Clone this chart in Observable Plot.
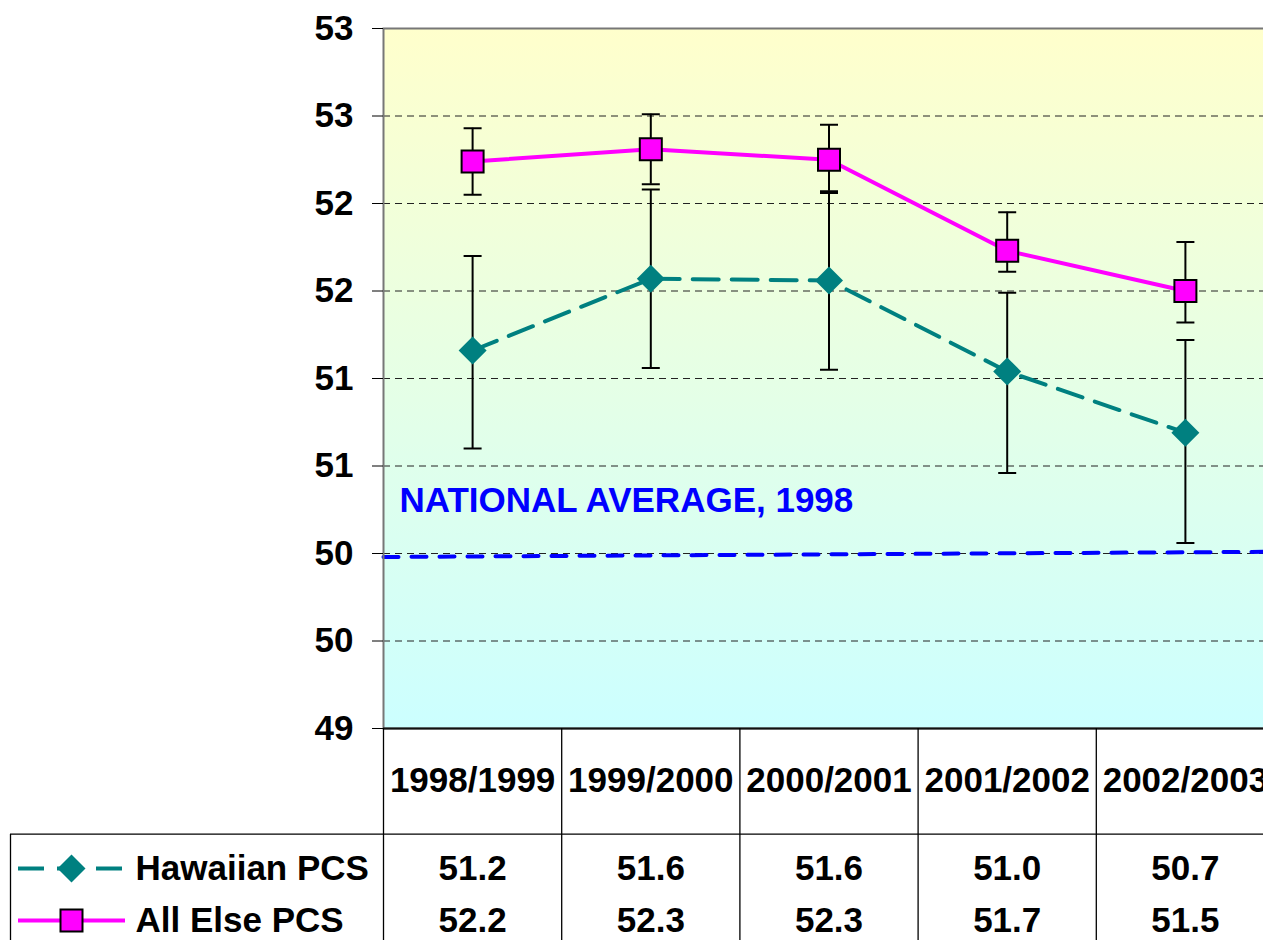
<!DOCTYPE html>
<html><head><meta charset="utf-8">
<script src="https://cdn.jsdelivr.net/npm/d3@7"></script>
<script src="https://cdn.jsdelivr.net/npm/@observablehq/plot@0.6"></script>
<style>
html,body{margin:0;padding:0;background:#fff;overflow:hidden;}
#wrap{width:1263px;height:940px;overflow:hidden;}
#wrap svg{display:block;max-width:none !important;}
</style></head><body><div id="wrap"></div>
<script>
const categories = ["1998/1999", "1999/2000", "2000/2001", "2001/2002", "2002/2003"];
const hawaiianPCS  = [51.16, 51.57, 51.56, 51.04, 50.69];
const hawaiianLow  = [50.60, 51.06, 51.05, 50.46, 50.06];
const hawaiianHigh = [51.70, 52.08, 52.06, 51.49, 51.22];
const allElsePCS   = [52.24, 52.31, 52.25, 51.73, 51.50];
const allElseLow   = [52.05, 52.11, 52.07, 51.61, 51.32];
const allElseHigh  = [52.43, 52.51, 52.45, 51.95, 51.78];
const nationalAverage = [49.98, 50.01]; // left edge, right edge
const nationalLabel = "NATIONAL AVERAGE, 1998";
const yTicks = [49, 49.5, 50, 50.5, 51, 51.5, 52, 52.5, 53];
const yTickLabels = ["49", "50", "50", "51", "51", "52", "52", "53", "53"];

const FONT = "'Liberation Sans', Arial, Helvetica, sans-serif";
const TEAL = "#008080", MAGENTA = "#FF00FF", BLUE = "#0000FF";

const diamondSym = {draw(ctx) { ctx.moveTo(0, -14); ctx.lineTo(14, 0); ctx.lineTo(0, 14); ctx.lineTo(-14, 0); ctx.closePath(); }};
const squareSym = {draw(ctx) { ctx.rect(-11, -11, 22, 22); }};
const capSym = {draw(ctx) { ctx.moveTo(-9, 0); ctx.lineTo(9, 0); }};

const series = [
  {name: "Hawaiian PCS", values: hawaiianPCS, low: hawaiianLow, high: hawaiianHigh, color: TEAL, dash: "26,13", symbol: diamondSym, fill: TEAL, stroke: "none"},
  {name: "All Else PCS", values: allElsePCS, low: allElseLow, high: allElseHigh, color: MAGENTA, dash: null, symbol: squareSym, fill: MAGENTA, stroke: "#000"}
];
const seriesData = series.map(s => categories.map((c, i) => ({x: i + 0.5, y: s.values[i], low: s.low[i], high: s.high[i]})));
const natData = [{x: 0, y: nationalAverage[0]}, {x: categories.length, y: nationalAverage[1]}];
const bounds = d3.range(categories.length + 1);
const fmt = d3.format(".1f");

const W = 1290, ML = 383, MR = 16;
const frameRight = W - MR;
const FS = 35;

const seriesMarks = [];
series.forEach((s, k) => {
  seriesMarks.push(Plot.ruleX(seriesData[k], {x: "x", y1: "low", y2: "high", stroke: "#000", strokeWidth: 2}));
  seriesMarks.push(Plot.dot(seriesData[k], {x: "x", y: "low", symbol: capSym, fill: "none", stroke: "#000", strokeWidth: 2}));
  seriesMarks.push(Plot.dot(seriesData[k], {x: "x", y: "high", symbol: capSym, fill: "none", stroke: "#000", strokeWidth: 2}));
});
series.forEach((s, k) => {
  seriesMarks.push(Plot.line(seriesData[k], {x: "x", y: "y", stroke: s.color, strokeWidth: 4, strokeDasharray: s.dash || undefined}));
});
series.forEach((s, k) => {
  seriesMarks.push(Plot.dot(seriesData[k], {x: "x", y: "y", symbol: s.symbol, fill: s.fill, stroke: s.stroke, strokeWidth: 2}));
});

const main = Plot.plot({
  width: W, height: 833, marginLeft: ML, marginRight: MR, marginTop: 28, marginBottom: 105,
  x: {domain: [0, categories.length], label: null},
  y: {domain: [49, 53], label: null},
  style: {fontFamily: FONT, fontWeight: "bold", fontSize: FS + "px", color: "#000", background: "#fff", maxWidth: "none"},
  marks: [
    Plot.frame({fill: "url(#bgGrad)", stroke: "none"}),
    Plot.ruleY(yTicks.slice(1, -1), {stroke: "#222", strokeWidth: 1, strokeDasharray: "7,5"}),
    Plot.line(natData, {x: "x", y: "y", stroke: BLUE, strokeWidth: 4, strokeDasharray: "15,13"}),
    Plot.text([nationalLabel], {x: 0, y: 50.3, dx: 16, text: d => d, textAnchor: "start", fill: BLUE, fontSize: FS, fontWeight: "bold"}),
    ...seriesMarks,
    Plot.frame({stroke: "#777", strokeWidth: 2}),
    Plot.ruleY([49], {stroke: "#111", strokeWidth: 2}),
    Plot.axisY({ticks: yTicks, tickFormat: d => yTickLabels[yTicks.indexOf(d)], tickSize: 11, tickPadding: 19, fontSize: FS, fontWeight: "bold", label: null}),
    Plot.axisX({ticks: bounds, tickSize: 105, tickFormat: () => "", label: null, strokeWidth: 1.3}),
    Plot.text(categories, {x: (d, i) => i + 0.5, frameAnchor: "bottom", dy: 52, text: d => d, lineAnchor: "middle", fontSize: FS, fontWeight: "bold"})
  ]
});

const cells = series.flatMap(s => s.values.map((v, i) => ({name: s.name, x: i + 0.5, v})));
const legendLeft = 18, legendRight = 125, symX = 71, labelX = 135, tableLeft = 10;

const table = Plot.plot({
  width: W, height: 107, marginLeft: ML, marginRight: MR, marginTop: 35, marginBottom: 20,
  x: {domain: [0, categories.length], axis: null, label: null},
  y: {type: "point", domain: series.map(s => s.name), padding: 0, axis: null, label: null},
  style: {fontFamily: FONT, fontWeight: "bold", fontSize: FS + "px", color: "#000", background: "#fff", maxWidth: "none"},
  marks: [
    Plot.ruleX(bounds, {insetTop: -35, insetBottom: -20, stroke: "#000", strokeWidth: 1.3}),
    Plot.ruleX([0], {dx: tableLeft - ML, insetTop: -34, insetBottom: -20, stroke: "#000", strokeWidth: 1.3}),
    Plot.ruleY([series[0].name], {dy: -34.3, insetLeft: tableLeft - ML, stroke: "#000", strokeWidth: 1.3}),
    ...series.map(s => Plot.ruleY([s.name], {stroke: s.color, strokeWidth: 4, strokeDasharray: s.dash || undefined, insetLeft: legendLeft - ML, insetRight: frameRight - legendRight})),
    ...series.map(s => Plot.dot([s.name], {frameAnchor: "left", y: d => d, dx: symX - ML, symbol: s.symbol, fill: s.fill, stroke: s.stroke, strokeWidth: 2})),
    Plot.text(series, {y: "name", text: "name", frameAnchor: "left", dx: labelX - ML, textAnchor: "start", fontSize: FS, fontWeight: "bold"}),
    Plot.text(cells, {x: "x", y: "name", text: d => fmt(d.v), fontSize: FS, fontWeight: "bold"})
  ]
});

const wrap = document.getElementById("wrap");
const mainSvg = main.tagName.toLowerCase() === "svg" ? main : main.querySelector("svg");
const ns = "http://www.w3.org/2000/svg";
const defs = document.createElementNS(ns, "defs");
const grad = document.createElementNS(ns, "linearGradient");
grad.setAttribute("id", "bgGrad"); grad.setAttribute("x1", "0"); grad.setAttribute("y1", "0"); grad.setAttribute("x2", "0"); grad.setAttribute("y2", "1");
[["0", "#FFFFCC"], ["1", "#CCFFFF"]].forEach(([o, c]) => {
  const st = document.createElementNS(ns, "stop");
  st.setAttribute("offset", o); st.setAttribute("stop-color", c);
  grad.appendChild(st);
});
defs.appendChild(grad);
mainSvg.insertBefore(defs, mainSvg.firstChild);
wrap.appendChild(main);
wrap.appendChild(table);
</script></body></html>
